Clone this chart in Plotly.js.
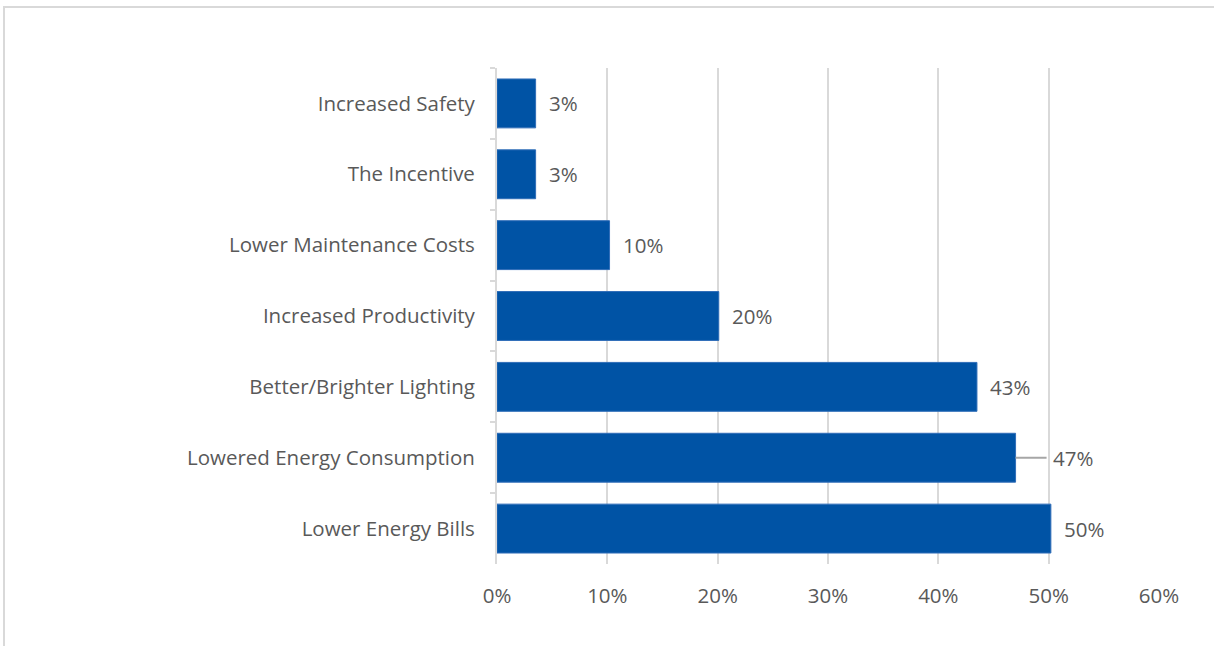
<!DOCTYPE html>
<html>
<head>
<meta charset="utf-8">
<script src="https://cdn.plot.ly/plotly-3.0.1.min.js"></script>
<style>
html,body{margin:0;padding:0;background:#fff;}
#wrap{position:relative;width:1214px;height:646px;overflow:hidden;}
#chart{position:absolute;left:0;top:0;width:1214px;height:646px;}
#frame{position:absolute;left:3px;top:6px;width:1300px;height:700px;border-top:2px solid #d9d9d9;border-left:2px solid #d9d9d9;pointer-events:none;}
</style>
</head>
<body>
<div id="wrap"><div id="chart"></div><div id="frame"></div></div>
<script>
// Categories from top to bottom
const categories = [
  "Increased Safety",
  "The Incentive",
  "Lower Maintenance Costs",
  "Increased Productivity",
  "Better/Brighter Lighting",
  "Lowered Energy Consumption",
  "Lower Energy Bills"
];
const values = [0.035, 0.035, 0.102, 0.201, 0.435, 0.470, 0.502];
const valueLabels = ["3%", "3%", "10%", "20%", "43%", "47%", "50%"];
const leaderLine = [false, false, false, false, false, true, false];
const xTickVals = [0, 0.1, 0.2, 0.3, 0.4, 0.5, 0.6];
const xTickText = ["0%", "10%", "20%", "30%", "40%", "50%", "60%"];

const FONT = "'Open Sans', Lato, sans-serif";
const FS = 20.5;
const TXT = "#595959";
const GRID = "#d9d9d9";

const trace = {
  type: "bar",
  orientation: "h",
  y: categories,
  x: values,
  width: 0.69,
  marker: {color: "#0053A5", line: {color: "#2F6DB8", width: 1}},
  hoverinfo: "skip"
};

const annotations = categories.map((c, i) => {
  if (leaderLine[i]) {
    return {
      x: values[i], y: c, xref: "x", yref: "y",
      text: valueLabels[i], showarrow: true, arrowhead: 0, arrowwidth: 2,
      arrowcolor: "#a6a6a6", ax: 31, ay: 0, xanchor: "left", standoff: 0,
      borderpad: 5,
      font: {family: FONT, size: FS, color: TXT}
    };
  }
  return {
    x: values[i], y: c, xref: "x", yref: "y",
    text: valueLabels[i], showarrow: false, xanchor: "left", xshift: 11,
    font: {family: FONT, size: FS, color: TXT}
  };
});

const layout = {
  width: 1214, height: 646,
  margin: {l: 497, r: 55, t: 68, b: 82, pad: 0},
  paper_bgcolor: "#ffffff",
  plot_bgcolor: "#ffffff",
  showlegend: false,
  font: {family: FONT, color: TXT, size: FS},
  xaxis: {
    range: [0, 0.6],
    tickvals: xTickVals, ticktext: xTickText,
    showgrid: true, gridcolor: GRID, gridwidth: 2,
    zeroline: false, showline: false, ticks: "",
    ticklabelstandoff: 17,
    tickfont: {family: FONT, size: FS, color: TXT},
    fixedrange: true
  },
  yaxis: {
    type: "category",
    autorange: "reversed",
    showline: true, linecolor: GRID, linewidth: 2,
    ticks: "outside", tickson: "boundaries", ticklen: 5, tickcolor: GRID, tickwidth: 2,
    ticklabelstandoff: 16,
    showgrid: false, zeroline: false,
    tickfont: {family: FONT, size: FS, color: TXT},
    fixedrange: true
  },
  annotations: annotations
};

Plotly.newPlot("chart", [trace], layout, {displayModeBar: false, staticPlot: true});
</script>
</body>
</html>
